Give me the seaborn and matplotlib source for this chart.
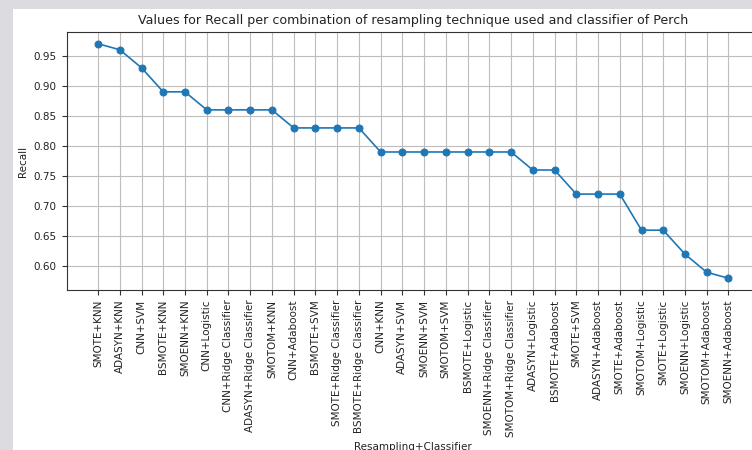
import matplotlib
matplotlib.use("Agg")
import matplotlib.pyplot as plt
import seaborn as sns
from matplotlib.patches import Rectangle

combinations = [
    "SMOTE+KNN", "ADASYN+KNN", "CNN+SVM", "BSMOTE+KNN", "SMOENN+KNN",
    "CNN+Logistic", "CNN+Ridge Classifier", "ADASYN+Ridge Classifier",
    "SMOTOM+KNN", "CNN+Adaboost", "BSMOTE+SVM", "SMOTE+Ridge Classifier",
    "BSMOTE+Ridge Classifier", "CNN+KNN", "ADASYN+SVM", "SMOENN+SVM",
    "SMOTOM+SVM", "BSMOTE+Logistic", "SMOENN+Ridge Classifier",
    "SMOTOM+Ridge Classifier", "ADASYN+Logistic", "BSMOTE+Adaboost",
    "SMOTE+SVM", "ADASYN+Adaboost", "SMOTE+Adaboost", "SMOTOM+Logistic",
    "SMOTE+Logistic", "SMOENN+Logistic", "SMOTOM+Adaboost", "SMOENN+Adaboost",
]
recall = [
    0.97, 0.96, 0.93, 0.89, 0.89,
    0.86, 0.86, 0.86,
    0.86, 0.83, 0.83, 0.83,
    0.83, 0.79, 0.79, 0.79,
    0.79, 0.79, 0.79,
    0.79, 0.76, 0.76,
    0.72, 0.72, 0.72, 0.66,
    0.66, 0.62, 0.59, 0.58,
]

W, H = 752, 450
fig = plt.figure(figsize=(W / 100, H / 100), dpi=100)
fig.patch.set_facecolor("#dcdce0")
fig.patches.append(Rectangle((13 / W, 0), 1, 1 - 9 / H, transform=fig.transFigure,
                             facecolor="white", edgecolor="none", zorder=-5))

ax = fig.add_axes([66.5 / W, 1 - 290 / H, 693.5 / W, 258 / H])
sns.lineplot(x=combinations, y=recall, marker="o", sort=False, ax=ax,
             color="#1f77b4", linewidth=1.2, markersize=5,
             markeredgecolor="#1f77b4")
ax.grid(True, color="#bdbdbd", linewidth=0.8)
ax.set_axisbelow(True)
ax.tick_params(axis="x", labelrotation=90, labelsize=7.5, length=3.5, color="#333333")
ax.tick_params(axis="y", labelsize=7.5, length=3.5, color="#333333")
for s in ax.spines.values():
    s.set_color("#333333")
    s.set_linewidth(0.8)
ax.set_xlabel("Resampling+Classifier", fontsize=7.5, color="#222222")
ax.set_ylabel("Recall", fontsize=7.5, color="#222222")
ax.set_title("Values for Recall per combination of resampling technique used and classifier of Perch",
             fontsize=9.1, color="#222222")
for t in ax.get_xticklabels() + ax.get_yticklabels():
    t.set_color("#222222")

fig.savefig("out.png", dpi=100, facecolor=fig.get_facecolor())
